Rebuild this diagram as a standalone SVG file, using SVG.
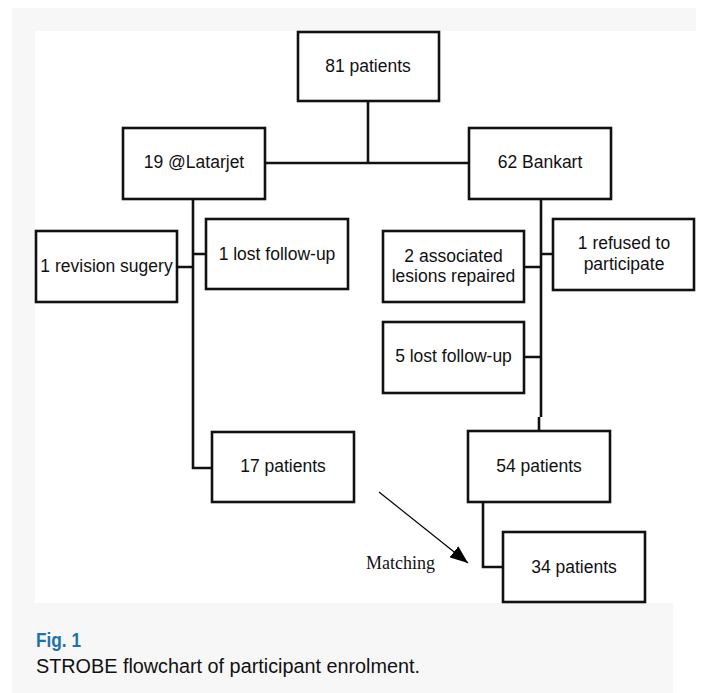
<svg xmlns="http://www.w3.org/2000/svg" width="701" height="693" viewBox="0 0 701 693">
<style>
.box{fill:#fff;stroke:#111;stroke-width:2.6}
.t{font-family:"Liberation Sans",Arial,sans-serif;font-size:17.5px;fill:#111;text-anchor:middle}
.ln{fill:none;stroke:#111;stroke-width:2.6}
</style>
<defs>
<marker id="ah2" markerWidth="18" markerHeight="14" refX="18" refY="7" orient="auto" markerUnits="userSpaceOnUse" viewBox="0 0 18 14">
<path d="M0,0 L18,7 L0,14 Z" fill="#000"/>
</marker>
</defs>
<rect x="0" y="0" width="701" height="693" fill="#fff"/>
<rect x="12" y="8" width="684" height="23" fill="#f8f7f8"/>
<rect x="12" y="8" width="23" height="600" fill="#f8f7f8"/>
<rect x="12" y="603" width="661" height="90" fill="#f8f7f8"/>

<g id="connectors">
<path class="ln" d="M368,101 V163 M265,163 H469"/>
<path class="ln" d="M193,199 V468 H212"/>
<path class="ln" d="M177,267 H193 M193,254 H206"/>
<path class="ln" d="M541,199 V417 M539,417 V431"/>
<path class="ln" d="M524,267 H541 M541,254 H553 M524,357 H541"/>
<path class="ln" d="M483,502 V567 H503"/>
<line x1="379" y1="492" x2="468" y2="563" stroke="#000" stroke-width="1.2" marker-end="url(#ah2)"/>
</g>

<g id="n81"><rect class="box" x="298" y="32" width="141" height="69"/><text class="t" x="368" y="72">81 patients</text></g>
<g id="nLatarjet"><rect class="box" x="123" y="128" width="142" height="71"/><text class="t" x="194" y="168">19 @Latarjet</text></g>
<g id="nBankart"><rect class="box" x="469" y="128" width="142" height="71"/><text class="t" x="540" y="168">62 Bankart</text></g>
<g id="nRevision"><rect class="box" x="36" y="231" width="141" height="71"/><text class="t" x="106.5" y="272">1 revision sugery</text></g>
<g id="nLost1"><rect class="box" x="206" y="219" width="142" height="70"/><text class="t" x="277" y="260">1 lost follow-up</text></g>
<g id="nAssoc"><rect class="box" x="383" y="231" width="141" height="71"/><text class="t" x="453.5" y="262">2 associated</text><text class="t" x="453.5" y="282">lesions repaired</text></g>
<g id="nRefused"><rect class="box" x="553" y="219" width="141" height="71"/><text class="t" x="624" y="249">1 refused to</text><text class="t" x="624" y="270">participate</text></g>
<g id="nLost5"><rect class="box" x="383" y="322" width="141" height="71"/><text class="t" x="453.5" y="362">5 lost follow-up</text></g>
<g id="n17"><rect class="box" x="212" y="432" width="142" height="70"/><text class="t" x="283" y="472">17 patients</text></g>
<g id="n54"><rect class="box" x="468" y="431" width="142" height="71"/><text class="t" x="539" y="472">54 patients</text></g>
<g id="n34"><rect class="box" x="503" y="532" width="142" height="70"/><text class="t" x="574" y="573">34 patients</text></g>

<text x="366" y="569" font-family="'Liberation Serif','Times New Roman',serif" font-size="18" fill="#111">Matching</text>

<text x="36" y="647" font-family="'Liberation Sans',Arial,sans-serif" font-size="20" font-weight="bold" fill="#1b72ad" textLength="45" lengthAdjust="spacingAndGlyphs">Fig. 1</text>
<text x="36" y="673" font-family="'Liberation Sans',Arial,sans-serif" font-size="19.5" fill="#111" textLength="384" lengthAdjust="spacingAndGlyphs">STROBE flowchart of participant enrolment.</text>
</svg>
